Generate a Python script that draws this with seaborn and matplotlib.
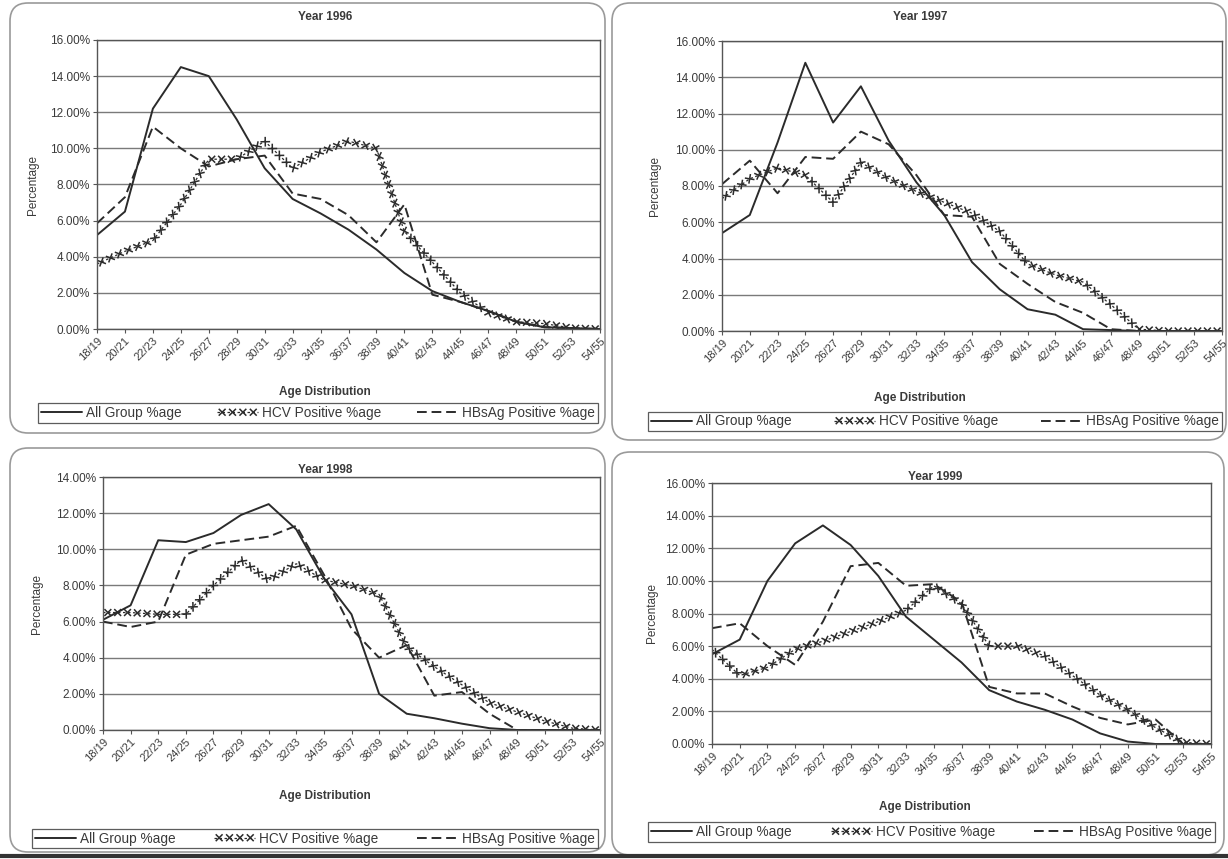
import matplotlib
matplotlib.use('Agg')
import matplotlib.pyplot as plt
import seaborn as sns
import pandas as pd
from matplotlib import patheffects as pe
from matplotlib.patches import FancyBboxPatch
from matplotlib.lines import Line2D
from matplotlib.ticker import PercentFormatter, MultipleLocator

# age groups on the x axis
ages = ['18/19', '20/21', '22/23', '24/25', '26/27', '28/29', '30/31', '32/33', '34/35', '36/37',
        '38/39', '40/41', '42/43', '44/45', '46/47', '48/49', '50/51', '52/53', '54/55']

# values (percent)
all_1996 = [5.2, 6.5, 12.2, 14.5, 14.0, 11.6, 8.9, 7.2, 6.4, 5.5, 4.4, 3.1, 2.1, 1.5, 1.0, 0.4, 0.1, 0.05, 0.0]
hcv_1996 = [3.6, 4.3, 4.9, 6.9, 9.4, 9.4, 10.4, 8.9, 9.8, 10.4, 10.0, 5.4, 3.7, 2.0, 0.9, 0.4, 0.3, 0.05, 0.0]
hbs_1996 = [5.85, 7.3, 11.2, 10.0, 9.0, 9.4, 9.6, 7.5, 7.2, 6.3, 4.8, 6.9, 1.9, 1.5, 1.0, 0.4, 0.1, 0.05, 0.0]

all_1997 = [5.4, 6.4, 10.4, 14.8, 11.5, 13.5, 10.5, 8.2, 6.4, 3.8, 2.3, 1.2, 0.9, 0.1, 0.05, 0.0, 0.0, 0.0, 0.0]
hcv_1997 = [7.3, 8.4, 9.0, 8.6, 7.1, 9.3, 8.4, 7.7, 7.1, 6.5, 5.5, 3.7, 3.1, 2.7, 1.45, 0.1, 0.0, 0.0, 0.0]
hbs_1997 = [8.1, 9.4, 7.6, 9.6, 9.5, 11.0, 10.3, 8.6, 6.4, 6.3, 3.7, 2.6, 1.6, 1.0, 0.1, 0.0, 0.0, 0.0, 0.0]

all_1998 = [6.1, 6.9, 10.5, 10.4, 10.9, 11.9, 12.5, 11.1, 8.4, 6.4, 2.0, 0.9, 0.65, 0.35, 0.1, 0.0, 0.0, 0.0, 0.0]
hcv_1998 = [6.5, 6.5, 6.4, 6.4, 8.0, 9.4, 8.3, 9.2, 8.3, 8.0, 7.5, 4.6, 3.5, 2.5, 1.5, 1.0, 0.5, 0.1, 0.0]
hbs_1998 = [6.0, 5.7, 6.0, 9.7, 10.3, 10.5, 10.7, 11.3, 8.6, 5.6, 4.0, 4.7, 1.9, 2.1, 0.9, 0.0, 0.0, 0.0, 0.0]

all_1999 = [5.5, 6.4, 10.0, 12.3, 13.4, 12.2, 10.3, 7.8, 6.4, 5.0, 3.3, 2.6, 2.1, 1.5, 0.65, 0.15, 0.0, 0.0, 0.0]
hcv_1999 = [5.8, 4.2, 4.7, 5.8, 6.3, 6.9, 7.5, 8.2, 9.7, 8.6, 6.0, 6.0, 5.4, 4.2, 3.0, 2.1, 1.0, 0.1, 0.0]
hbs_1999 = [7.1, 7.4, 6.0, 4.85, 7.5, 10.9, 11.1, 9.7, 9.8, 8.7, 3.5, 3.1, 3.1, 2.3, 1.6, 1.2, 1.5, 0.0, 0.0]

panels = [
    ('Year 1996', all_1996, hcv_1996, hbs_1996, 16),
    ('Year 1997', all_1997, hcv_1997, hbs_1997, 16),
    ('Year 1998', all_1998, hcv_1998, hbs_1998, 14),
    ('Year 1999', all_1999, hcv_1999, hbs_1999, 16),
]

W, H = 1228, 859
# pixel layout: plot area, legend box, title, x label, y label, outer box
layout = [
    dict(ax=(97, 40, 600, 329), leg=(38, 403, 598, 423), title=(325, 17), xl=(325, 392), yl=(33, 185), box=(10, 3, 605, 433)),
    dict(ax=(722, 41, 1222, 331), leg=(648, 411, 1222, 432), title=(920, 17), xl=(920, 398), yl=(655, 186), box=(612, 3, 1226, 440)),
    dict(ax=(103, 477, 600, 730), leg=(32, 828, 598, 849), title=(325, 470), xl=(325, 796), yl=(37, 604), box=(10, 448, 605, 852)),
    dict(ax=(712, 483, 1211, 744), leg=(648, 821, 1215, 843), title=(935, 477), xl=(925, 807), yl=(652, 613), box=(612, 452, 1224, 855)),
]

sns.set_style('white')
plt.rcParams['font.family'] = ['Liberation Sans', 'DejaVu Sans']

ink = '#2b2b2b'
txt = '#3a3a3a'

fig = plt.figure(figsize=(W / 100, H / 100), dpi=100)
fig.patch.set_facecolor('white')


def fx(x):
    return x / W


def fy(y):
    return 1 - y / H


# x shaped ticks along the HCV line
x_marks = [pe.TickedStroke(spacing=7, angle=a, length=0.5, linewidth=1.1,
                           dashes={'dash_offset': 0, 'dash_list': None})
           for a in (45, 135, -45, -135)] + [pe.Normal()]

for (title, s_all, s_hcv, s_hbs, ymax), lay in zip(panels, layout):
    x0, y0, x1, y1 = lay['ax']
    ax = fig.add_axes([fx(x0), fy(y1), fx(x1 - x0), (y1 - y0) / H])

    df = pd.DataFrame({'age': ages, 'all': s_all, 'hcv': s_hcv, 'hbs': s_hbs})

    sns.lineplot(data=df, x='age', y='all', ax=ax, color=ink, lw=1.4, label='All Group %age')
    sns.lineplot(data=df, x='age', y='hcv', ax=ax, color=ink, lw=0.9, ls=(0, (2, 2)),
                 label='HCV Positive %age', path_effects=x_marks)
    sns.lineplot(data=df, x='age', y='hbs', ax=ax, color=ink, lw=1.4, ls=(0, (5, 2.5)),
                 label='HBsAg Positive %age')

    ax.set_xlim(0, len(ages) - 1)
    ax.set_ylim(0, ymax)
    ax.yaxis.set_major_locator(MultipleLocator(2))
    ax.yaxis.set_major_formatter(PercentFormatter(decimals=2))
    ax.grid(axis='y', color='#7a7a7a', lw=1.0)
    ax.set_axisbelow(True)
    for sp in ax.spines.values():
        sp.set_color('#555555')
        sp.set_linewidth(1.0)
    ax.tick_params(axis='both', direction='out', length=3, width=0.8, color='#555555',
                   labelcolor=txt, labelsize=8.5, pad=2, left=True, bottom=True)
    plt.setp(ax.get_xticklabels(), rotation=45, ha='right', rotation_mode='anchor', fontsize=8)
    ax.set_xlabel('')
    ax.set_ylabel('')

    handles, labels = ax.get_legend_handles_labels()
    lx0, ly0, lx1, ly1 = lay['leg']
    ax.legend(handles, labels, loc='center', ncol=3, mode='expand',
              bbox_to_anchor=(fx(lx0), fy(ly1), fx(lx1 - lx0), (ly1 - ly0) / H),
              bbox_transform=fig.transFigure, frameon=True, fancybox=False,
              edgecolor='#333333', fontsize=9.8, handlelength=3.0, handletextpad=0.3,
              columnspacing=0.4, borderpad=0.2, borderaxespad=0)
    ax.get_legend().get_frame().set_linewidth(0.9)
    for t in ax.get_legend().get_texts():
        t.set_color(txt)

    fig.text(fx(lay['title'][0]), fy(lay['title'][1]), title, ha='center', va='center',
             fontsize=8.5, fontweight='bold', color=txt)
    fig.text(fx(lay['xl'][0]), fy(lay['xl'][1]), 'Age Distribution', ha='center', va='center',
             fontsize=8.5, fontweight='bold', color=txt)
    fig.text(fx(lay['yl'][0]), fy(lay['yl'][1]), 'Percentage', ha='center', va='center',
             rotation=90, fontsize=8.5, color=txt)

    bx0, by0, bx1, by1 = lay['box']
    fig.add_artist(FancyBboxPatch((bx0 / 100, (H - by1) / 100), (bx1 - bx0) / 100, (by1 - by0) / 100,
                                  boxstyle='round,pad=0,rounding_size=0.18',
                                  transform=fig.dpi_scale_trans, facecolor='none',
                                  edgecolor='#9a9a9a', lw=1.2, zorder=0))

# dark page edge at the bottom of the scan
fig.add_artist(Line2D([0, 1], [fy(856), fy(856)], transform=fig.transFigure, color='#333333', lw=3))

fig.savefig('out.png', dpi=100)
